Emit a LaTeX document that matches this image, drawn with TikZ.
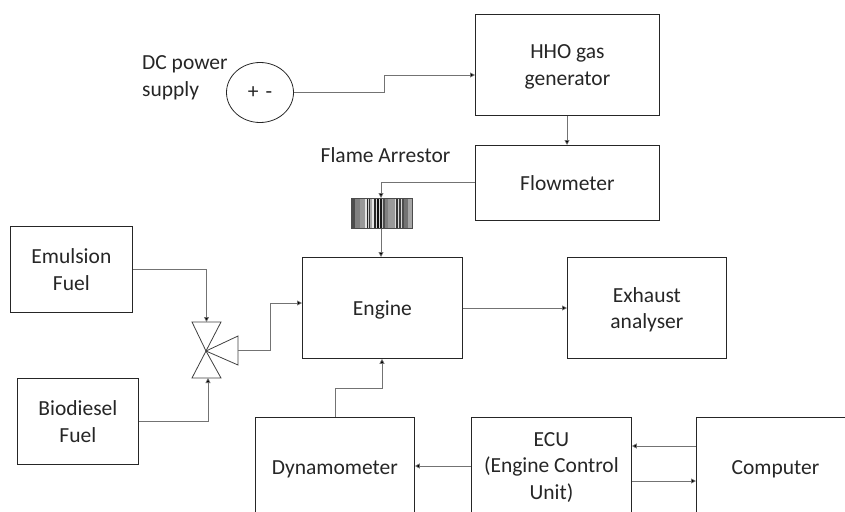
\documentclass[tikz,border=0pt]{standalone}
\usepackage{fontspec}
\setmainfont{Carlito}
\usetikzlibrary{arrows.meta,shapes.geometric}
\definecolor{linegray}{gray}{0.45}
\tikzset{
  x=1pt,y=-1pt,
  block/.style={draw=black!85,line width=.8pt,fill=white,align=center,text=black!85,font=\fontsize{21.5}{26.5}\selectfont,anchor=north west,inner sep=0pt},
  flatblock/.style={block,text depth=0pt},
  lab/.style={align=left,font=\fontsize{21.5}{26.5}\selectfont,text=black!85,inner sep=0pt},
  wire/.style={draw=linegray,line width=.7pt},
  flow/.style={wire,-{Triangle[length=5pt,width=5pt,fill=black]}},
  valve/.style={draw=black!75,line width=.8pt,fill=none,line join=miter}
}
\begin{document}
\begin{tikzpicture}
\useasboundingbox (0,0) rectangle (845,511);
\clip (0,0) rectangle (845,511);
\node[flatblock,minimum width=184pt,minimum height=101pt] (hho) at (475,14) {HHO gas\\generator};
\node[block,minimum width=184pt,minimum height=75pt] (flow) at (475,145) {Flowmeter};
\node[flatblock,minimum width=160pt,minimum height=101pt] (engine) at (302,257) {Engine};
\node[flatblock,minimum width=159pt,minimum height=101pt] (exhaust) at (567,257) {Exhaust\\analyser};
\node[block,minimum width=122pt,minimum height=86pt] (emul) at (10,226) {Emulsion\\Fuel};
\node[block,minimum width=121pt,minimum height=86pt] (bio) at (17,378) {Biodiesel\\Fuel};
\node[flatblock,minimum width=159pt,minimum height=100pt] (dyno) at (255,417) {Dynamometer};
\node[block,minimum width=160pt,minimum height=100pt] (ecu) at (471,417) {ECU\\(Engine Control\\Unit)};
\node[flatblock,minimum width=158pt,minimum height=100pt] (comp) at (696,417) {Computer};
\node[draw=black!85,line width=.8pt,ellipse,inner sep=0pt,minimum width=67pt,minimum height=60pt,text=black!85,font=\fontsize{21.5}{26.5}\selectfont] (supply) at (260,92.5) {+\,\,-};
\node[lab,anchor=west] (dc) at (142,78) {DC power\\supply};
\node[lab] (fa) at (385.5,155) {Flame Arrestor};
\draw[flow] (supply.east) -- (384,92.5) -- (384,75) -- (hho.west |- 0,75);
\draw[flow] (hho.south -| 567,0) -- (flow.north -| 567,0);
% flame arrestor
\foreach \xa/\wa/\ga in {351/4/70,355/5/50,360/5/40,365/2/10,367/1/85,368/1/20,369/1/80,370/2/35,372/2/10,374/2/85,376/1/15,377/2/95,379/1/15,380/2/90,382/1/20,383/2/70,385/3/50,388/7/40,395/1/15,396/2/80,398/1/15,399/2/75,401/1/15,402/2/70,404/4/55,408/4/35}{
  \fill[black!\ga!white] (\xa,198) rectangle ++(\wa,30);
}
\node[draw=black!70,line width=.8pt,minimum width=61pt,minimum height=30pt,inner sep=0pt,anchor=north west] (arr) at (351,198) {};
\draw[flow] (flow.west |- 0,182) -- (381,182) -- (arr.north -| 381,0);
\draw[flow] (arr.south -| 381,0) -- (engine.north -| 381,0);
\draw[flow] (engine.east |- 0,308) -- (exhaust.west |- 0,308);
% valve
\coordinate (vc) at (206,351);
\draw[valve] (vc) -- (192,322) -- (221,322) -- cycle;
\draw[valve] (vc) -- (192,378) -- (221,378) -- cycle;
\draw[valve] (vc) -- (238,336) -- (238,365) -- cycle;
\coordinate (vt) at (206.5,322);
\coordinate (vb) at (208,378);
\coordinate (vr) at (238,350);
\draw[flow] (emul.east |- 0,269) -- (206.5,269) -- (vt);
\draw[flow] (bio.east |- 0,421) -- (208,421) -- (vb);
\draw[flow] (vr) -- (270,350) -- (270,303) -- (engine.west |- 0,303);
\draw[flow] (dyno.north -| 335,0) -- (335,388) -- (382,388) -- (engine.south -| 382,0);
\draw[flow] (ecu.west |- 0,466) -- (dyno.east |- 0,466);
\draw[flow] (comp.west |- 0,446) -- (ecu.east |- 0,446);
\draw[flow] (ecu.east |- 0,481) -- (comp.west |- 0,481);
\end{tikzpicture}
\end{document}
